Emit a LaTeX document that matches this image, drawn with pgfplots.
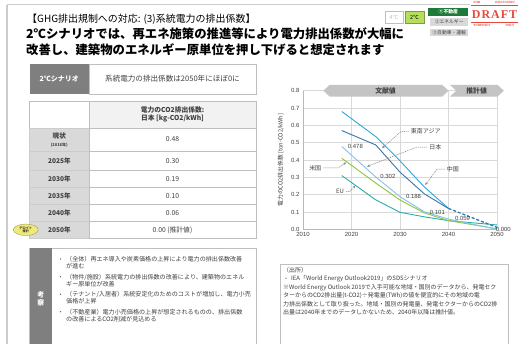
\documentclass[border=0pt]{standalone}
\usepackage{fontspec}
\setmainfont{Noto Sans CJK JP}
\newfontfamily\arial{Liberation Sans}
\newfontfamily\stampfont{Liberation Serif}[LetterSpace=8]
\newfontfamily\stampsmall{Liberation Serif}
\usepackage{pgfplots}
\pgfplotsset{compat=1.18}
\usetikzlibrary{arrows.meta,shapes.geometric}

\definecolor{cChina}{HTML}{2AA8E0}
\definecolor{cSEA}{HTML}{3A74A8}
\definecolor{cJP}{HTML}{86C0EA}
\definecolor{cUS}{HTML}{8CC63F}
\definecolor{cEU}{HTML}{26AEAE}
\definecolor{txt}{HTML}{404040}
\definecolor{grd}{HTML}{D9D9D9}
\definecolor{dgray}{HTML}{7F7F7F}
\definecolor{lgray}{HTML}{D9D9D9}
\definecolor{bgray}{HTML}{BFBFBF}
\definecolor{dgreen}{HTML}{1F7A3A}
\definecolor{lime}{HTML}{B5DE5C}
\definecolor{stamp}{HTML}{E5483C}
\definecolor{bannr}{HTML}{C4C4C4}
\definecolor{ellip}{HTML}{F0E878}
\definecolor{hdr}{HTML}{F2F2F2}

\newcommand{\fs}[1]{\fontsize{#1}{#1}\selectfont}

\begin{document}
\begin{tikzpicture}
\useasboundingbox (0,0) rectangle (519bp,344bp);
\fill[white] (0,0) rectangle (519bp,344bp);
\begin{scope}[x=1bp,y=-1bp,shift={(0,344bp)}]
% frame lines
\draw[bgray!80, line width=1bp] (7,5) -- (470,5);
\draw[bgray!80, line width=2bp] (7,5) -- (7,346);
% title
\node[anchor=base west, inner sep=0, font=\fs{10}, text=black] at (27,23) {【GHG排出規制への対応: (3)系統電力の排出係数】};
\node[anchor=base west, inner sep=0, font=\bfseries\fs{12.4}, text=black] at (26,39) {2℃シナリオでは、再エネ施策の推進等により電力排出係数が大幅に};
\node[anchor=base west, inner sep=0, font=\bfseries\fs{12.4}, text=black] at (26,54.5) {改善し、建築物のエネルギー原単位を押し下げると想定されます};
% badges
\draw[bgray, fill=white] (385,11.7) rectangle (403,23.3);
\node[font=\fs{5.5}, text=bgray, inner sep=0] at (394,17.5) {4℃};
\draw[lime!70!black, fill=lime] (405,11.7) rectangle (424,23.3);
\node[font=\fs{5.5}, text=black, inner sep=0] at (414.5,17.5) {2℃};
\fill[dgreen] (428.3,8.3) rectangle (468.3,15.7);
\node[font=\bfseries\fs{4.8}, text=white, inner sep=0] at (448.3,12) {①不動産};
\fill[lgray] (430,18.3) rectangle (468.3,26);
\node[font=\fs{4.8}, text=txt, inner sep=0] at (449.2,22.1) {②エネルギー};
\fill[lgray] (430,29) rectangle (468.3,36);
\node[font=\fs{4.8}, text=txt, inner sep=0] at (449.2,32.5) {③自動車・運輸};
% stamp
\node[font=\stampsmall\bfseries\fs{3.2}, text=stamp, inner sep=0] at (477,2.6) {FOR};
\node[font=\stampsmall\bfseries\fs{3.2}, text=stamp, inner sep=0] at (505,2.6) {DISCUSSION};
\draw[stamp, line width=0.8bp] (471,5.5) -- (518,5.5);
\node[font=\stampfont\bfseries\fs{12}, text=stamp, inner sep=0] at (494.5,14.3) {DRAFT};
\draw[stamp, line width=0.8bp] (471,22) -- (518,22);
\node[font=\stampsmall\bfseries\fs{3.2}, text=stamp, inner sep=0] at (482,25.5) {PURPOSES};
\node[font=\stampsmall\bfseries\fs{3.2}, text=stamp, inner sep=0] at (510,25.5) {ONLY};
% scenario row
\fill[dgray] (29.5,64) rectangle (89,94);
\node[font=\bfseries\fs{7}, text=white, inner sep=0] at (59.3,79) {2℃シナリオ};
\draw[bgray, fill=white, line width=0.6bp] (89,64) rectangle (256,94);
\node[font=\fs{7.6}, text=txt, inner sep=0] at (172.5,79) {系統電力の排出係数は2050年にほぼ0に};
% table
\begin{scope}[line width=0.6bp]
\draw[bgray, fill=white] (29.5,101) rectangle (89,128);
\draw[bgray, fill=hdr] (89,101) rectangle (256,128);
\foreach \a/\b in {128/151,151/170.5,170.5/187.5,187.5/204.5,204.5/221.5,221.5/238.5}{
  \draw[white!60!gray, fill=lgray] (29.5,\a) rectangle (89,\b);
  \draw[bgray, fill=white] (89,\a) rectangle (256,\b);
}
\end{scope}
\node[font={\bfseries\fontsize{6.8}{8.5}\selectfont}, text=txt, align=center, inner sep=0] at (172.5,114.5) {電力のCO2排出係数:\\日本 [kg-CO2/kWh]};
\node[font=\bfseries\fs{6.6}, text=txt, inner sep=0] at (59.3,136.5) {現状};
\node[font=\bfseries\fs{4}, text=txt, inner sep=0] at (59.3,145) {(2018年)};
\node[font=\fs{6.8}, text=txt, inner sep=0] at (172.5,139.5) {0.48};
\foreach \y/\l/\v in {160.8/2025年/0.30,179/2030年/0.19,196/2035年/0.10,213/2040年/0.06,230/2050年/{0.00 (推計値)}}{
  \node[font=\bfseries\fs{6.6}, text=txt, inner sep=0] at (59.3,\y) {\l};
  \node[font=\fs{6.8}, text=txt, inner sep=0] at (172.5,\y) {\v};
}
\node[ellipse, fill=ellip, draw=ellip!60!black, line width=0.3bp, minimum width=25bp, minimum height=11.5bp, inner sep=0, font={\bfseries\fontsize{3.2}{3.6}\selectfont}, align=center, text=txt] at (25.8,229.8) {デロイト\\推計};
% consideration box
\draw[bgray, line width=0.6bp] (29.5,248.5) rectangle (256,346);
\fill[dgray] (29.5,248.5) rectangle (52,346);
\node[font={\bfseries\fontsize{7}{8}\selectfont}, text=white, align=center, inner sep=0] at (40.8,299) {考\\察};
\foreach \y/\t in {
 259/{（全体）再エネ導入や炭素価格の上昇により電力の排出係数改善},
 266/{が進む},
 276.7/{（物件/施設）系統電力の排出係数の改善により、建築物のエネル},
 284/{ギー原単位が改善},
 294.3/{（テナント/入居者）系統安定化のためのコストが増加し、電力小売},
 301/{価格が上昇},
 311.7/{（不動産業）電力小売価格の上昇が想定されるものの、排出係数},
 319/{の改善によるCO2削減が見込める}}{
  \node[anchor=base west, inner sep=0, font=\fs{6.1}, text=txt] at (66,\y+2.4) {\t};
}
\foreach \y in {259,276.7,294.3,311.7}{\fill[txt] (60.5,\y) circle (0.6bp);}
% source box
\draw[bgray, line width=0.6bp] (280,264) rectangle (508,346);
\node[anchor=base west, inner sep=0, font=\fs{6}, text=txt] at (283,272.4) {（出所）};
\fill[txt] (286,278.3) circle (0.6bp);
\node[anchor=base west, inner sep=0, font=\fs{6}, text=txt] at (291,280.7) {IEA「World Energy Outlook2019」のSDSシナリオ};
\node[anchor=base west, inner sep=0, font=\fs{6}, text=txt] at (283,289.4) {※World Energy Outlook 2019で入手可能な地域・国別のデータから、発電セク};
\node[anchor=base west, inner sep=0, font=\fs{6}, text=txt] at (283,297.7) {ターからのCO2排出量(t-CO2)÷発電量(TWh)の値を便宜的にその地域の電};
\node[anchor=base west, inner sep=0, font=\fs{6}, text=txt] at (283,306.1) {力排出係数として取り扱った。地域・国別の発電量、発電セクターからのCO2排};
\node[anchor=base west, inner sep=0, font=\fs{6}, text=txt] at (283,314.4) {出量は2040年までのデータしかないため、2040年以降は推計値。};
\end{scope}

\begin{axis}[
  at={(303bp,114.7bp)}, anchor=south west,
  scale only axis, width=194bp, height=138.6bp,
  xmin=2010, xmax=2050, ymin=0, ymax=0.8,
  xtick={2010,2020,2030,2040,2050},
  ytick={0,0.1,0.2,0.3,0.4,0.5,0.6,0.7,0.8},
  x tick label style={/pgf/number format/.cd,1000 sep={}},
  y tick label style={/pgf/number format/.cd,fixed,fixed zerofill,precision=1},
  /pgf/number format/assume math mode=true,
  tick label style={font=\arial\fontsize{6}{7}\selectfont, text=txt},
  grid=major, grid style={grd, line width=0.6pt},
  axis x line*=bottom, axis y line*=left,
  axis line style={draw=grd!85!black, line width=0.6pt},
  major tick length=0pt,
  clip=false, no marks,
  ylabel={電力のCO2排出係数 [ton-CO2/kWh]},
  ylabel style={at={(axis description cs:-0.115,0.5)}, anchor=center, font=\fontsize{5.8}{7}\selectfont, text=txt},
]
% banners
\fill[bannr] (axis cs:2014.2,0.8) -- (axis cs:2015.5,0.834) -- (axis cs:2038.7,0.834) -- (axis cs:2040,0.8) -- (axis cs:2038.7,0.766) -- (axis cs:2015.5,0.766) -- cycle;
\fill[bannr] (axis cs:2040.3,0.834) -- (axis cs:2050.1,0.834) -- (axis cs:2051.4,0.8) -- (axis cs:2050.1,0.766) -- (axis cs:2040.3,0.766) -- (axis cs:2041.6,0.8) -- cycle;
\node[font=\bfseries\fontsize{6.8}{8}\selectfont, text=txt] at (axis cs:2027,0.8) {文献値};
\node[font=\bfseries\fontsize{6.8}{8}\selectfont, text=txt] at (axis cs:2045.8,0.8) {推計値};
% series
\addplot[cEU, line width=0.9pt] coordinates {(2018,0.31) (2025,0.17) (2030,0.098) (2035,0.072) (2040,0.05) (2050,0.025)};
\addplot[cUS, line width=0.9pt] coordinates {(2018,0.41) (2025,0.267) (2030,0.169) (2035,0.095) (2040,0.05) (2050,0.003)};
\addplot[cJP, line width=0.9pt] coordinates {(2018,0.478) (2025,0.302) (2030,0.188) (2035,0.101) (2040,0.059) (2050,0.0)};
\addplot[cChina, line width=0.9pt] coordinates {(2018,0.68) (2025,0.535) (2030,0.395) (2035,0.245) (2040,0.121)};
\addplot[cChina, line width=1pt, densely dashed] coordinates {(2040,0.121) (2050,0.012)};
\addplot[cSEA, line width=0.9pt] coordinates {(2018,0.57) (2025,0.487) (2030,0.33) (2035,0.205) (2040,0.12)};
\addplot[cSEA, line width=1pt, densely dashed] coordinates {(2040,0.12) (2050,0.01)};
% value labels
\begin{scope}[every node/.style={font=\arial\fontsize{6}{7}\selectfont, text=txt}]
\node at (axis cs:2020.8,0.478) {0.478};
\node at (axis cs:2027.5,0.304) {0.302};
\node at (axis cs:2032.8,0.188) {0.188};
\node at (axis cs:2037.7,0.098) {0.101};
\node at (axis cs:2042.9,0.06) {0.059};
\node at (axis cs:2051.3,0.0) {0.000};
\end{scope}
% callouts
\begin{scope}[gray, line width=0.5pt, dash pattern=on 1.2pt off 0.8pt, -{Stealth[length=3pt,width=2.4pt]}]
\draw (axis cs:2031.8,0.564) -- (axis cs:2030.2,0.564) -- (axis cs:2026.3,0.468);
\draw (axis cs:2035.6,0.474) -- (axis cs:2033.4,0.474) -- (axis cs:2023.2,0.362);
\draw (axis cs:2039.2,0.347) -- (axis cs:2037.6,0.347) -- (axis cs:2035.2,0.256);
\draw (axis cs:2014.2,0.355) -- (axis cs:2017.3,0.355) -- (axis cs:2018.9,0.386);
\draw (axis cs:2018.9,0.217) -- (axis cs:2019.6,0.217) -- (axis cs:2020.8,0.252);
\end{scope}
\begin{scope}[every node/.style={font=\fontsize{6}{7}\selectfont, text=txt, anchor=west, inner sep=1pt}]
\node at (axis cs:2032,0.564) {東南アジア};
\node at (axis cs:2035.8,0.474) {日本};
\node at (axis cs:2039.4,0.347) {中国};
\node[anchor=east] at (axis cs:2014.0,0.355) {米国};
\node[anchor=east] at (axis cs:2018.7,0.217) {EU};
\end{scope}
\end{axis}
\end{tikzpicture}
\end{document}
